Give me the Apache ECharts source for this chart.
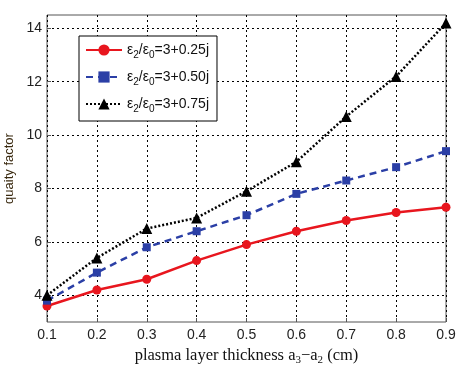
<!DOCTYPE html>
<html><head><meta charset="utf-8">
<script src="https://cdn.jsdelivr.net/npm/echarts@6/dist/echarts.min.js"></script>
<style>html,body{margin:0;padding:0;background:#fff}#c{width:474px;height:378px}</style>
</head><body><div id="c"></div>
<script>
var categories = ['0.1','0.2','0.3','0.4','0.5','0.6','0.7','0.8','0.9'];
var seriesNames = ['e025','e050','e075'];
var q025 = [3.6, 4.2, 4.6, 5.3, 5.9, 6.4, 6.8, 7.1, 7.3];
var q050 = [3.8, 4.85, 5.8, 6.4, 7.0, 7.8, 8.3, 8.8, 9.4];
var q075 = [4.0, 5.4, 6.5, 6.9, 7.9, 9.0, 10.7, 12.2, 14.2];
var yTicks = [4, 6, 8, 10, 12, 14];
var legendLabels = {e025: '0.25j', e050: '0.50j', e075: '0.75j'};

var chart = echarts.init(document.getElementById('c'));
var rich = {
  a: {fontFamily: 'Arial, Liberation Sans', fontSize: 14, color: '#111'},
  s: {fontFamily: 'Arial, Liberation Sans', fontSize: 10, color: '#111', padding: [10, 0, 0, 0]}
};
chart.setOption({
  animation: false,
  grid: {left: 47, right: 28, top: 15, bottom: 56, show: true, borderColor: '#555', borderWidth: 1,
         containLabel: false, outerBoundsMode: 'none'},
  legend: {
    left: 79, top: 36, orient: 'vertical', itemGap: 10, itemWidth: 36, itemHeight: 14,
    padding: [7, 8, 7, 6],
    borderColor: '#000', borderWidth: 1, backgroundColor: '#fff',
    data: seriesNames,
    formatter: function (n) { return '{a|ε}{s|2}{a|/ε}{s|0}{a|=3+' + legendLabels[n] + '}'; },
    textStyle: {rich: rich}
  },
  xAxis: {
    type: 'category', data: categories, boundaryGap: false,
    name: '{t|plasma layer thickness a}{u|3}{t|−a}{u|2}{t| (cm)}',
    nameLocation: 'middle', nameGap: 23,
    nameTextStyle: {rich: {
      t: {fontFamily: 'Liberation Serif, Times New Roman', fontSize: 16.5, color: '#111'},
      u: {fontFamily: 'Liberation Serif, Times New Roman', fontSize: 11, color: '#111', padding: [9, 0, 0, 0]}
    }},
    axisLine: {show: false},
    axisTick: {show: true, inside: true, length: 4, lineStyle: {color: '#555'}},
    axisLabel: {fontFamily: 'Arial, Liberation Sans', fontSize: 14, color: '#222', margin: 6},
    splitLine: {show: true, lineStyle: {color: '#000', type: [2, 3], width: 1}}
  },
  yAxis: {
    type: 'value', min: 3, max: 14.5,
    name: 'quaity factor', nameLocation: 'middle', nameGap: 31,
    nameTextStyle: {fontFamily: 'Arial, Liberation Sans', fontSize: 13, color: '#3a2a10'},
    axisLine: {show: false},
    axisTick: {show: true, inside: true, length: 4, customValues: yTicks, lineStyle: {color: '#555'}},
    axisLabel: {fontFamily: 'Arial, Liberation Sans', fontSize: 14, color: '#222', margin: 5, customValues: yTicks},
    splitLine: {show: true, lineStyle: {color: '#000', type: [2, 3], width: 1}}
  },
  series: [
    {name: 'e025', type: 'line', data: q025, symbol: 'circle', symbolSize: 9,
     lineStyle: {color: '#e8161e', width: 2.5}, itemStyle: {color: '#e8161e'}},
    {name: 'e050', type: 'line', data: q050, symbol: 'rect', symbolSize: 8,
     lineStyle: {color: '#2b3fa6', width: 2.5, type: [7, 5]}, itemStyle: {color: '#2b3fa6'}},
    {name: 'e075', type: 'line', data: q075, symbol: 'triangle', symbolSize: 11,
     lineStyle: {color: '#000', width: 2.5, type: [2, 2]}, itemStyle: {color: '#000'}}
  ]
});
</script></body></html>
